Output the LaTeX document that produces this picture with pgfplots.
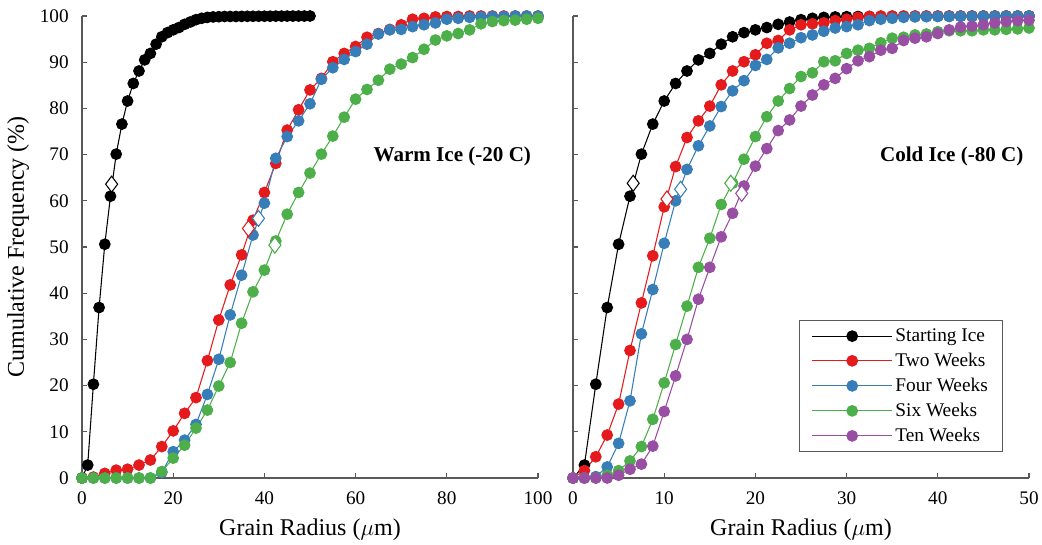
\documentclass[border=0pt]{standalone}
\usepackage{pgfplots}
\pgfplotsset{compat=1.18}
\usepackage{pgfplotstable}
\usepackage{fontspec}
\setmainfont{Liberation Serif}
\definecolor{cblack}{HTML}{000000}
\definecolor{cred}{HTML}{E41A1C}
\definecolor{cblue}{HTML}{377EB8}
\definecolor{cgreen}{HTML}{4DAF4A}
\definecolor{cpurple}{HTML}{984EA3}
\definecolor{axgray}{HTML}{595959}

% Starting ice (same in both panels)
\pgfplotstableread{
x y
0 0
1.25 2.8
2.5 20.3
3.75 36.9
5 50.6
6.25 61.0
7.5 70.1
8.75 76.6
10 81.6
11.25 85.4
12.5 88.1
13.75 90.5
15 91.9
16.25 93.9
17.5 95.5
18.75 96.4
20 97.0
21.25 97.5
22.5 98.2
23.75 98.7
25 99.2
26.25 99.5
27.5 99.7
28.75 99.8
30 99.85
31.25 99.9
32.5 99.9
33.75 99.9
35 99.92
36.25 99.93
37.5 99.94
38.75 99.95
40 99.96
41.25 99.96
42.5 99.97
43.75 99.97
45 99.98
46.25 99.98
47.5 99.99
48.75 99.99
50 100
}\startice

% Warm ice
\pgfplotstableread{
x y
0 0
2.5 0.2
5 1.0
7.5 1.7
10 1.9
12.5 2.8
15 3.9
17.5 6.8
20 10.2
22.5 14.0
25 17.4
27.5 25.4
30 34.2
32.5 41.8
35 48.3
37.5 55.8
40 61.8
42.5 68.1
45 75.3
47.5 79.7
50 84.0
52.5 86.5
55 90.1
57.5 91.9
60 93.4
62.5 95.4
65 96.2
67.5 97.1
70 98.1
72.5 99.3
75 99.5
77.5 99.8
80 99.9
82.5 99.9
85 100
87.5 100
90 100
92.5 100
95 100
97.5 100
100 100
}\warmtwo

\pgfplotstableread{
x y
0 0
2.5 0
5 0
7.5 0
10 0
12.5 0
15 0
17.5 1.2
20 5.7
22.5 8.2
25 11.6
27.5 18.1
30 25.7
32.5 35.3
35 43.9
37.5 52.6
40 59.5
42.5 69.2
45 73.9
47.5 77.3
50 81.0
52.5 86.3
55 88.8
57.5 90.6
60 92.3
62.5 93.9
65 96.1
67.5 97.0
70 97.1
72.5 97.7
75 98.1
77.5 98.5
80 99.3
82.5 99.5
85 99.7
87.5 99.8
90 99.9
92.5 99.9
95 100
97.5 100
100 100
}\warmfour

\pgfplotstableread{
x y
0 0
2.5 0
5 0
7.5 0
10 0
12.5 0
15 0
17.5 1.4
20 4.3
22.5 7.1
25 10.8
27.5 14.7
30 19.9
32.5 25.0
35 33.5
37.5 40.3
40 45.0
42.5 51.3
45 57.1
47.5 61.8
50 66.0
52.5 70.1
55 74.0
57.5 78.1
60 82.0
62.5 84.1
65 86.1
67.5 88.5
70 89.6
72.5 91.0
75 92.8
77.5 94.8
80 95.7
82.5 96.2
85 97.0
87.5 98.3
90 98.8
92.5 99.0
95 99.1
97.5 99.3
100 99.5
}\warmsix

% Cold ice
\pgfplotstableread{
x y
0 0
1.25 1.6
2.5 4.6
3.75 9.3
5 16.0
6.25 27.6
7.5 37.9
8.75 48.1
10 58.7
11.25 67.4
12.5 73.7
13.75 77.3
15 80.5
16.25 85.1
17.5 88.1
18.75 90.1
20 91.6
21.25 94.1
22.5 94.7
23.75 97.0
25 98.1
26.25 98.3
27.5 98.5
28.75 99.0
30 99.3
31.25 99.7
32.5 99.9
33.75 100
35 100
36.25 100
37.5 100
38.75 100
40 100
41.25 100
42.5 100
43.75 100
45 100
46.25 100
47.5 100
48.75 100
50 100
}\coldtwo

\pgfplotstableread{
x y
0 0
1.25 0
2.5 0.3
3.75 2.4
5 7.5
6.25 16.7
7.5 31.2
8.75 40.8
10 50.8
11.25 60.0
12.5 66.8
13.75 71.9
15 76.2
16.25 80.4
17.5 83.8
18.75 86.0
20 89.3
21.25 90.6
22.5 93.1
23.75 94.1
25 95.3
26.25 95.9
27.5 96.7
28.75 97.4
30 97.7
31.25 98.1
32.5 99.0
33.75 99.3
35 99.5
36.25 99.7
37.5 99.8
38.75 99.85
40 99.9
41.25 99.9
42.5 99.92
43.75 99.94
45 99.95
46.25 99.96
47.5 99.97
48.75 99.98
50 100
}\coldfour

\pgfplotstableread{
x y
0 0
1.25 0
2.5 0
3.75 0.6
5 1.6
6.25 3.7
7.5 6.8
8.75 12.7
10 20.6
11.25 28.9
12.5 37.2
13.75 45.6
15 51.9
16.25 59.2
17.5 63.8
18.75 69.0
20 73.9
21.25 78.2
22.5 81.6
23.75 84.3
25 86.9
26.25 87.7
27.5 90.1
28.75 90.3
30 91.9
31.25 92.6
32.5 93.0
33.75 94.2
35 95.2
36.25 95.4
37.5 95.9
38.75 96.1
40 96.6
41.25 96.8
42.5 96.8
43.75 96.8
45 97.0
46.25 97.0
47.5 97.1
48.75 97.2
50 97.4
}\coldsix

\pgfplotstableread{
x y
0 0
1.25 0
2.5 0
3.75 0
5 0.6
6.25 1.9
7.5 3.0
8.75 6.9
10 14.4
11.25 22.1
12.5 30.0
13.75 38.7
15 45.6
16.25 52.2
17.5 57.3
18.75 63.2
20 67.5
21.25 71.3
22.5 75.2
23.75 77.5
25 80.5
26.25 82.9
27.5 85.1
28.75 86.5
30 88.6
31.25 90.3
32.5 91.2
33.75 92.6
35 93.0
36.25 94.7
37.5 95.2
38.75 95.5
40 96.2
41.25 97.0
42.5 97.6
43.75 97.8
45 98.1
46.25 98.5
47.5 98.8
48.75 99.0
50 99.1
}\coldten

\pgfplotsset{
  panel/.style={
    scale only axis,
    width=342pt, height=346.5pt,
    axis lines=left,
    axis line style={draw=axgray, line width=0.8pt, -},
    ymin=0, ymax=100,
    ytick={0,10,...,100},
    tick style={draw=axgray, line width=0.8pt},
    tick align=inside,
    major tick length=4pt,
    clip=false,
    /pgf/number format/assume math mode=true,
    tick label style={font=\fontsize{14.4}{17}\selectfont, black},
    xticklabel shift=7pt,
    yticklabel shift=6.5pt,
    label style={font=\fontsize{18}{21}\selectfont},
    xlabel style={at={(axis description cs:0.5,-0.112)}, anchor=center},
    xlabel={Grain Radius ($\mu$m)},
  },
  ser/.style={color=#1, line width=0.8pt, mark=*, mark size=4pt, mark options={fill=#1, draw=#1, solid}},
  meanmark/.style={only marks, mark=diamond*, mark size=6pt, mark options={fill=white, draw=#1, line width=0.8pt}},
}

\begin{document}
\begin{tikzpicture}
\useasboundingbox (0pt,0pt) rectangle (781.5pt,408pt);

\begin{axis}[panel, at={(61.5pt,49.5pt)}, anchor=south west,
  xmin=0, xmax=100, xtick={0,20,...,100},
  ylabel={Cumulative Frequency (\%)},
  ylabel style={at={(axis description cs:-0.14,0.5)}, anchor=center},
]
\addplot[ser=cblack] table[x=x,y=y] {\startice};
\addplot[ser=cred] table[x=x,y=y] {\warmtwo};
\addplot[ser=cblue] table[x=x,y=y] {\warmfour};
\addplot[ser=cgreen] table[x=x,y=y] {\warmsix};
\addplot[meanmark=cblack] coordinates {(6.5,63.6)};
\addplot[meanmark=cred] coordinates {(36.5,54.0)};
\addplot[meanmark=cblue] coordinates {(38.7,56.2)};
\addplot[meanmark=cgreen] coordinates {(42.3,50.4)};
\node[anchor=east, font=\fontsize{15.8}{19}\selectfont\bfseries] at (axis cs:99.5,69.5) {Warm Ice (-20 C)};
\end{axis}

\begin{axis}[panel, at={(429.75pt,49.5pt)}, anchor=south west,
  xmin=0, xmax=50, xtick={0,10,...,50},
  yticklabels={},
  legend style={at={(0.943,0.056)}, anchor=south east, draw=axgray, line width=0.8pt,
    font=\fontsize{14.5}{17}\selectfont, row sep=3.2pt, inner xsep=9pt, inner ysep=4pt},
  legend cell align=left,
  legend image code/.code={
    \draw[mark repeat=2, mark phase=2] plot coordinates {(0pt,0pt) (30pt,0pt) (60pt,0pt)};
  },
]
\addplot[ser=cblack] table[x=x,y=y] {\startice};
\addlegendentry{Starting Ice}
\addplot[ser=cred] table[x=x,y=y] {\coldtwo};
\addlegendentry{Two Weeks}
\addplot[ser=cblue] table[x=x,y=y] {\coldfour};
\addlegendentry{Four Weeks}
\addplot[ser=cgreen] table[x=x,y=y] {\coldsix};
\addlegendentry{Six Weeks}
\addplot[ser=cpurple] table[x=x,y=y] {\coldten};
\addlegendentry{Ten Weeks}
\addplot[meanmark=cblack, forget plot] coordinates {(6.6,63.8)};
\addplot[meanmark=cred, forget plot] coordinates {(10.3,60.4)};
\addplot[meanmark=cblue, forget plot] coordinates {(11.8,62.5)};
\addplot[meanmark=cgreen, forget plot] coordinates {(17.3,63.8)};
\addplot[meanmark=cpurple, forget plot] coordinates {(18.5,61.6)};
\node[anchor=east, font=\fontsize{15.8}{19}\selectfont\bfseries] at (axis cs:49.9,69.5) {Cold Ice (-80 C)};
\end{axis}
\end{tikzpicture}
\end{document}
